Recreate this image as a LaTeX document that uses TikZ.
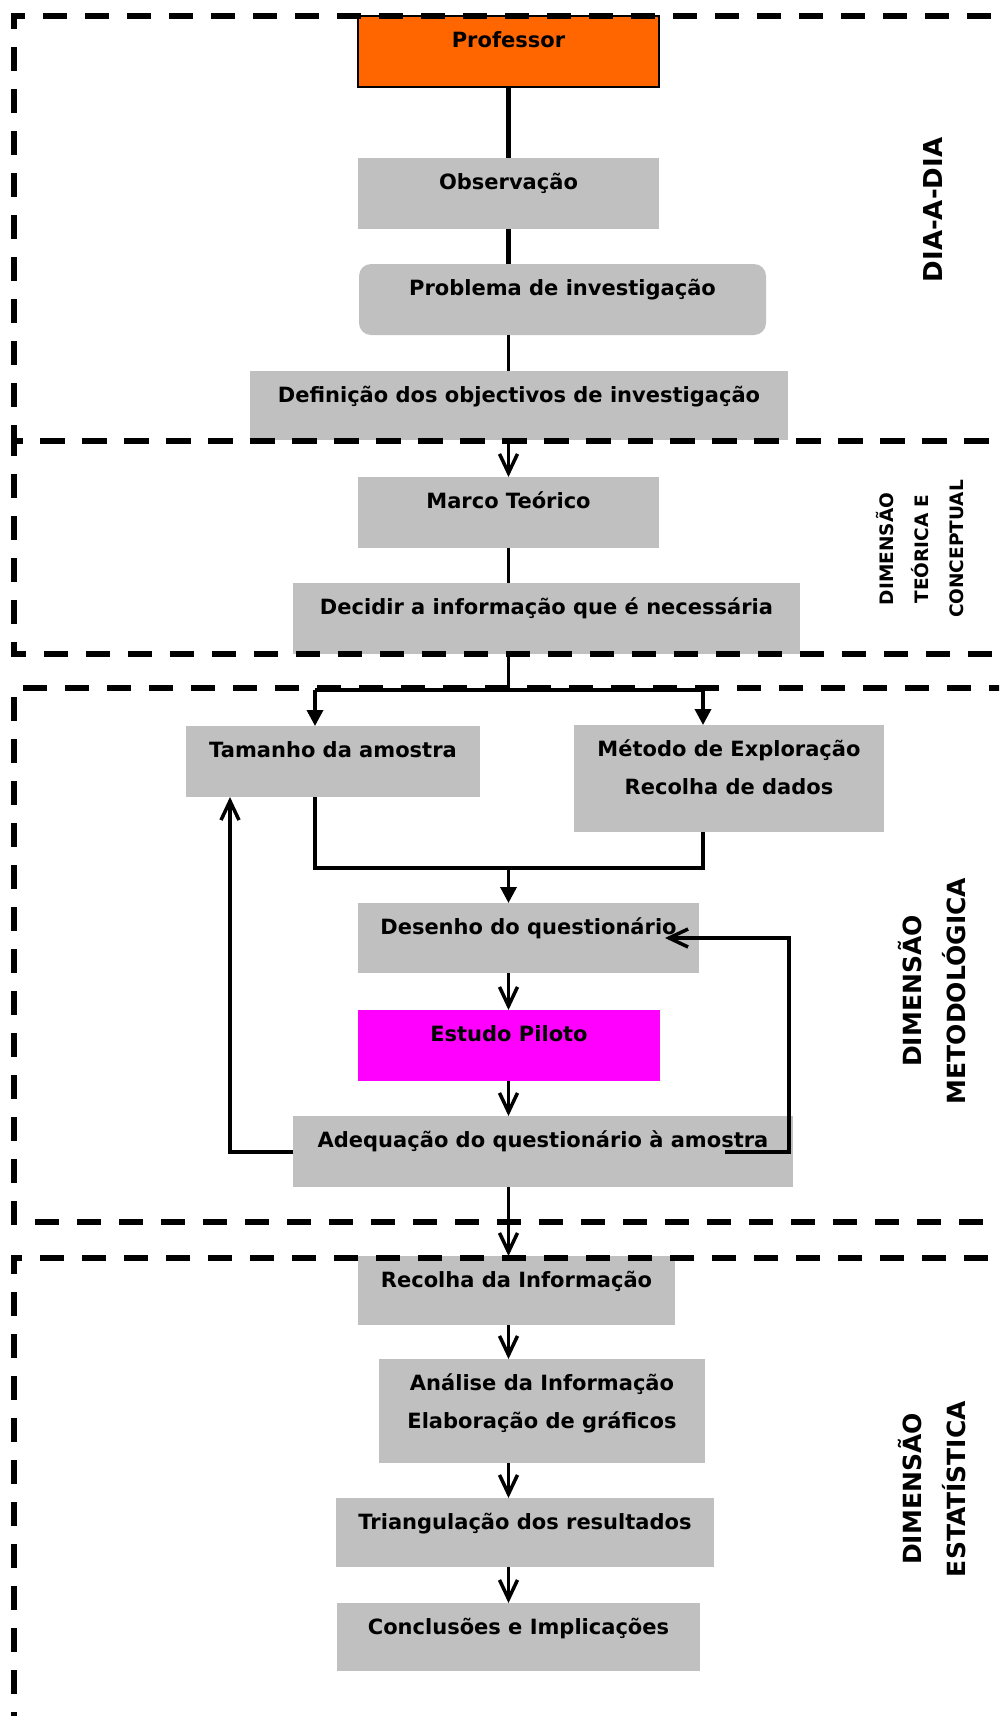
\documentclass[tikz,border=0pt]{standalone}
\usepackage{fontspec}
\setmainfont{DejaVu Sans}
\usetikzlibrary{arrows.meta}
\definecolor{boxgray}{HTML}{C0C0C0}
\definecolor{proforange}{HTML}{FF6600}
\definecolor{pilotmagenta}{HTML}{FF00FF}
% box contents: width, height, text; first baseline 31pt below the top edge
\newcommand{\boxtext}[3]{\parbox[c][#2][t]{#1}{\centering\rule{0pt}{31pt}#3\par}}
\tikzset{
  bx/.style={fill=boxgray, inner sep=0pt, outer sep=0pt, anchor=north west,
             font=\bfseries\fontsize{21}{38}\selectfont},
  frame/.style={line width=6pt, dash pattern=on 24pt off 18pt},
  conn/.style={line width=3.5pt},
  varrow/.style={conn, -{Straight Barb[length=19pt,width=18pt]}},
  farrow/.style={conn, -{Triangle[length=16pt,width=16pt]}},
  sidelab/.style={rotate=90, inner sep=0pt, align=center,
                  font=\bfseries\fontsize{25}{44}\selectfont}
}
\begin{document}
\begin{tikzpicture}[x=1pt,y=-1pt]
\useasboundingbox (0,0) rectangle (999,1716);
\clip (0,0) rectangle (999,1716);
\fill[white] (0,0) rectangle (999,1716);

% --- process boxes ---
\node[bx, fill=proforange, draw=black, line width=2pt] (prof) at (358,16) {\boxtext{301pt}{71pt}{Professor}};
\node[bx] (obs) at (358,158) {\boxtext{301pt}{71pt}{Observação}};
\node[bx, rounded corners=12pt] (prob) at (359,264) {\boxtext{407pt}{71pt}{Problema de investigação}};
\node[bx] (def) at (250,371) {\boxtext{538pt}{69pt}{Definição dos objectivos de investigação}};
\node[bx] (marco) at (358,477) {\boxtext{301pt}{71pt}{Marco Teórico}};
\node[bx] (dec) at (293,583) {\boxtext{507pt}{71pt}{Decidir a informação que é necessária}};
\node[bx] (tam) at (186,726) {\boxtext{294pt}{71pt}{Tamanho da amostra}};
\node[bx] (met) at (574,725) {\boxtext{310pt}{107pt}{Método de Exploração\\Recolha de dados}};
\node[bx] (des) at (358,903) {\boxtext{341pt}{70pt}{Desenho do questionário}};
\node[bx, fill=pilotmagenta] (est) at (358,1010) {\boxtext{302pt}{71pt}{Estudo Piloto}};
\node[bx] (adeq) at (293,1116) {\boxtext{500pt}{71pt}{Adequação do questionário à amostra}};
\node[bx] (rec) at (358,1256) {\boxtext{317pt}{69pt}{Recolha da Informação}};
\node[bx] (ana) at (379,1359) {\boxtext{326pt}{104pt}{Análise da Informação\\Elaboração de gráficos}};
\node[bx] (tri) at (336,1498) {\boxtext{378pt}{69pt}{Triangulação dos resultados}};
\node[bx] (conc) at (337,1603) {\boxtext{363pt}{68pt}{Conclusões e Implicações}};

% --- dashed section frames (open to the right) ---
\draw[frame, dash phase=23pt] (1010,16) -- (14,16) -- (14,441) -- (1010,441);
\draw[frame, dash phase=21pt] (1010,441) -- (14,441) -- (14,654) -- (1010,654);
\draw[frame, dash phase=3pt] (1010,688) -- (14,688) -- (14,1222) -- (1010,1222);
\draw[frame, dash phase=20pt] (1010,1258) -- (14,1258) -- (14,1730);

% --- section labels ---
\node[sidelab, font=\bfseries\fontsize{26}{44}\selectfont] (lab1) at (933,210) {DIA-A-DIA};
\node[sidelab, font=\bfseries\fontsize{18.5}{35}\selectfont] (lab2) at (920,549) {DIMENSÃO\\TEÓRICA E\\CONCEPTUAL};
\node[sidelab] (lab3) at (932.5,991) {DIMENSÃO\\METODOLÓGICA};
\node[sidelab] (lab4) at (932.5,1489) {DIMENSÃO\\ESTATÍSTICA};

% --- connectors ---
\coordinate (ax) at (508.5,0);
\draw[line width=5.5pt] (prof.south -| ax) -- (obs.north -| ax);
\draw[line width=4.5pt] (obs.south -| ax) -- (prob.north -| ax);
\draw[conn] (prob.south -| ax) -- (def.north -| ax);
\draw[varrow] (def.south -| ax) -- (marco.north -| ax);
\draw[conn] (marco.south -| ax) -- (dec.north -| ax);

\coordinate (jc) at (508.5,690);
\coordinate (jl) at (315,690);
\coordinate (jr) at (703,690);
\draw[conn] (dec.south -| ax) -- (jc);
\draw[conn] (jl) -- (jr);
\draw[farrow] (jl) -- (jl |- tam.north);
\draw[farrow] (jr) -- (jr |- met.north);

\coordinate (ml) at (315,868);
\coordinate (mr) at (703,868);
\coordinate (mc) at (508.5,868);
\draw[conn] (tam.south -| ml) -- (ml) -- (mr) -- (met.south -| mr);
\draw[farrow] (mc) -- (des.north -| mc);

\draw[varrow] (des.south -| ax) -- (est.north -| ax);
\draw[varrow] (est.south -| ax) -- (adeq.north -| ax);

% feedback loops
\coordinate (ll) at (230,1152);
\draw[varrow] (adeq.west |- ll) -- (ll) -- (ll |- tam.south);
\coordinate (rs) at (725,1152);
\coordinate (rc) at (789,1152);
\coordinate (re) at (665,938);
\draw[varrow] (rs) -- (rc) -- (rc |- re) -- (re);

\draw[varrow] (adeq.south -| ax) -- (rec.north -| ax);
\draw[varrow] (rec.south -| ax) -- (ana.north -| ax);
\draw[varrow] (ana.south -| ax) -- (tri.north -| ax);
\draw[varrow] (tri.south -| ax) -- (conc.north -| ax);
\end{tikzpicture}
\end{document}
